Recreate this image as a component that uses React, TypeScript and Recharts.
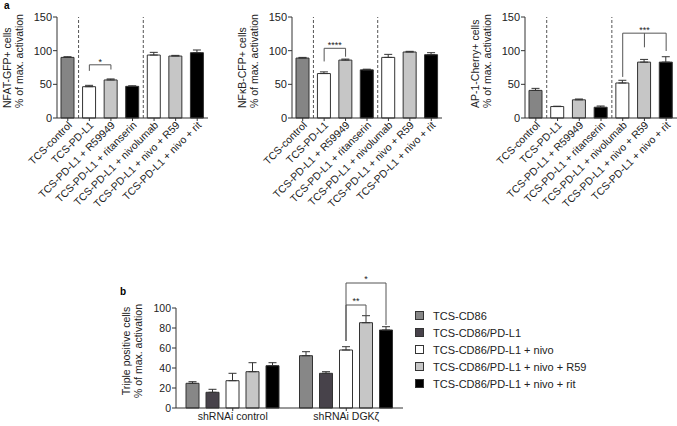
import React from 'react';
import { Bar, BarChart, Cell, ErrorBar, ReferenceLine, XAxis, YAxis } from 'recharts';

const FONT = '"Liberation Sans", Arial, Helvetica, sans-serif';
const INK = '#222';
const LINE = '#333';
const BRACKET = '#555';

// panel a: reporter activation per condition
const conditions = [
  'TCS-control',
  'TCS-PD-L1',
  'TCS-PD-L1 + R59949',
  'TCS-PD-L1 + ritanserin',
  'TCS-PD-L1 + nivolumab',
  'TCS-PD-L1 + nivo + R59',
  'TCS-PD-L1 + nivo + rit',
];
const conditionFills = ['#858585', '#ffffff', '#c6c6c6', '#000000', '#ffffff', '#c6c6c6', '#000000'];
const separators = [1, 4];

const nfatMean = [90, 46.5, 56.5, 47, 93.5, 92, 97];
const nfatSem = [1, 2, 1.5, 0.8, 4, 1, 4];
const nfkbMean = [89, 66, 86, 71.5, 90, 98, 94];
const nfkbSem = [1, 2.5, 1.5, 1, 4.5, 1, 3];
const ap1Mean = [41, 17, 27, 16, 52, 83, 83];
const ap1Sem = [3, 0.5, 1.2, 1.8, 4, 4, 8];

type Bracket = { from: number; to: number; y: number; legs: [number, number][]; label: string };

const nfatBrackets: Bracket[] = [{ from: 1, to: 2, y: 79, legs: [[1, 70], [2, 72]], label: '*' }];
const nfkbBrackets: Bracket[] = [{ from: 1, to: 2, y: 103.5, legs: [[1, 84], [2, 91]], label: '****' }];
const ap1Brackets: Bracket[] = [
  { from: 4, to: 6, y: 126, legs: [[4, 61], [5, 105], [6, 99.5]], label: '***' },
];

// panel b: triple positive cells per knockdown
const groups = ['shRNAi control', 'shRNAi DGKζ'];
const treatments = [
  'TCS-CD86',
  'TCS-CD86/PD-L1',
  'TCS-CD86/PD-L1 + nivo',
  'TCS-CD86/PD-L1 + nivo + R59',
  'TCS-CD86/PD-L1 + nivo + rit',
];
const treatmentFills = ['#878787', '#47424a', '#ffffff', '#c6c6c6', '#000000'];
const cd86Mean = [24.7, 52.3];
const cd86Sem = [1.6, 4];
const pdl1Mean = [15.7, 34.7];
const pdl1Sem = [3, 1.6];
const nivoMean = [27.3, 58];
const nivoSem = [7.4, 3.3];
const r59Mean = [36.3, 85.3];
const r59Sem = [9, 7];
const ritMean = [42.3, 78];
const ritSem = [3, 3.3];

// brackets in b, anchored on bar `from` of group `group`; legs are [treatment, lower end]
type GroupBracket = { group: number; from: number; to: number; y: number; legs: [number, number][]; label: string };
const tripleBrackets: GroupBracket[] = [
  { group: 1, from: 2, to: 4, y: 125, legs: [[2, 67], [4, 83]], label: '*' },
  { group: 1, from: 2, to: 3, y: 103, legs: [[2, 67], [3, 93]], label: '**' },
];

const A_HEIGHT = 215;
const A_BAR = 13;
const B_BAR = 13;
const B_GAP = 7;

function SlantTick(props: any) {
  const { x, y, payload } = props;
  return (
    <text
      x={x + 2}
      y={y}
      transform={`rotate(-45, ${x + 2}, ${y})`}
      textAnchor="end"
      dominantBaseline="central"
      fontSize={10.5}
      fontFamily={FONT}
      fill={INK}
    >
      {payload.value}
    </text>
  );
}

function YTitle({ viewBox, lines, anchor }: any) {
  const axisX = viewBox.x + viewBox.width;
  const x1 = axisX - 50;
  const x2 = axisX - 38;
  const yAt = anchor === 'start' ? viewBox.y + viewBox.height - 10 : viewBox.y + viewBox.height / 2 - 7;
  return (
    <g fontFamily={FONT} fontSize={10.5} fill={INK}>
      {[x1, x2].map((x, i) => (
        <text
          key={i}
          x={x}
          y={yAt}
          transform={`rotate(-90, ${x}, ${yAt})`}
          textAnchor={anchor}
          dominantBaseline="central"
        >
          {lines[i]}
        </text>
      ))}
    </g>
  );
}

const starLabel = (text: string) => ({
  value: text,
  position: 'top' as const,
  offset: 0,
  fontSize: 9,
  fill: INK,
  fontFamily: FONT,
});

function ActivationPanel({
  left,
  width,
  yAxisWidth,
  right,
  means,
  sems,
  title,
  brackets,
}: {
  left: number;
  width: number;
  yAxisWidth: number;
  right: number;
  means: number[];
  sems: number[];
  title: string[];
  brackets: Bracket[];
}) {
  const rows = conditions.map((name, i) => ({ name, mean: means[i], err: [0, sems[i]] }));
  return (
    <div style={{ position: 'absolute', left, top: 0 }}>
      <BarChart
        width={width}
        height={A_HEIGHT}
        data={rows}
        barSize={A_BAR}
        margin={{ top: 17, right, left: 0, bottom: 0 }}
      >
        <XAxis
          dataKey="name"
          interval={0}
          height={97}
          allowDuplicatedCategory={false}
          tick={<SlantTick />}
          tickSize={3}
          axisLine={{ stroke: LINE }}
          tickLine={{ stroke: LINE }}
        />
        <YAxis
          width={yAxisWidth}
          domain={[0, 150]}
          ticks={[0, 50, 100, 150]}
          tickSize={4}
          tickMargin={1}
          axisLine={{ stroke: LINE }}
          tickLine={{ stroke: LINE }}
          tick={{ fontSize: 11, fill: INK, fontFamily: FONT }}
          label={{ content: (p: any) => <YTitle viewBox={p.viewBox} lines={title} anchor="start" /> }}
        />
        {separators.map((s) => (
          <ReferenceLine key={s} x={conditions[s]} position="start" stroke="#555" strokeDasharray="3 2" />
        ))}
        <Bar dataKey="mean" stroke={LINE} strokeWidth={1} isAnimationActive={false}>
          {rows.map((r, i) => (
            <Cell key={r.name} fill={conditionFills[i]} />
          ))}
          <ErrorBar dataKey="err" width={4} stroke={LINE} strokeWidth={1} direction="y" />
        </Bar>
        {brackets.flatMap((b, k) => [
          <ReferenceLine
            key={`h${k}`}
            segment={[
              { x: conditions[b.from], y: b.y },
              { x: conditions[b.to], y: b.y },
            ]}
            stroke={BRACKET}
            label={starLabel(b.label)}
          />,
          ...b.legs.map(([c, low], j) => (
            <ReferenceLine
              key={`l${k}-${j}`}
              segment={[
                { x: conditions[c], y: b.y },
                { x: conditions[c], y: low },
              ]}
              stroke={BRACKET}
            />
          )),
        ])}
      </BarChart>
    </div>
  );
}

// bracket drawn from the label of the first bar; the bar's own height/value gives the y scale
function makeBracketLabel(series: number) {
  return function BracketLabel(props: any) {
    const { x, y, width, height, value, index } = props;
    const items = tripleBrackets.filter((b) => b.from === series && b.group === index);
    if (!items.length || !value) return null;
    const base = y + height;
    const perUnit = height / value;
    const yOf = (v: number) => base - v * perUnit;
    const xOf = (j: number) => x + width / 2 + (j - series) * (B_BAR + B_GAP);
    return (
      <g>
        {items.map((b, k) => (
          <g key={k} stroke={BRACKET} fill="none">
            <line x1={xOf(b.from)} x2={xOf(b.to)} y1={yOf(b.y)} y2={yOf(b.y)} />
            {b.legs.map(([j, low]) => (
              <line key={j} x1={xOf(j)} x2={xOf(j)} y1={yOf(b.y)} y2={yOf(low)} />
            ))}
            <text
              x={(xOf(b.from) + xOf(b.to)) / 2}
              y={yOf(b.y) - 1}
              textAnchor="middle"
              fontSize={9}
              fontFamily={FONT}
              fill={INK}
              stroke="none"
            >
              {b.label}
            </text>
          </g>
        ))}
      </g>
    );
  };
}

function TriplePanel() {
  const means = [cd86Mean, pdl1Mean, nivoMean, r59Mean, ritMean];
  const sems = [cd86Sem, pdl1Sem, nivoSem, r59Sem, ritSem];
  const rows = groups.map((name, g) => {
    const row: Record<string, any> = { name };
    treatments.forEach((_, j) => {
      row[`s${j}`] = means[j][g];
      row[`e${j}`] = [0, sems[j][g]];
    });
    return row;
  });
  const anchors = new Set(tripleBrackets.map((b) => b.from));
  return (
    <div style={{ position: 'absolute', left: 100, top: 260 }}>
      <BarChart
        width={577}
        height={166}
        data={rows}
        barSize={B_BAR}
        barGap={B_GAP}
        margin={{ top: 48, right: 274, left: 0, bottom: 0 }}
      >
        <XAxis
          dataKey="name"
          height={18}
          tickSize={3}
          axisLine={{ stroke: LINE }}
          tickLine={{ stroke: LINE }}
          tick={{ fontSize: 10.5, fill: INK, fontFamily: FONT }}
        />
        <YAxis
          width={76}
          domain={[0, 100]}
          ticks={[0, 20, 40, 60, 80, 100]}
          tickSize={4}
          tickMargin={1}
          axisLine={{ stroke: LINE }}
          tickLine={{ stroke: LINE }}
          tick={{ fontSize: 10.5, fill: INK, fontFamily: FONT }}
          label={{
            content: (p: any) => (
              <YTitle viewBox={p.viewBox} lines={['Triple positive cells', '% of max. activation']} anchor="middle" />
            ),
          }}
        />
        {treatments.map((t, j) => (
          <Bar
            key={t}
            dataKey={`s${j}`}
            name={t}
            fill={treatmentFills[j]}
            stroke={LINE}
            isAnimationActive={false}
            label={anchors.has(j) ? makeBracketLabel(j) : false}
          >
            <ErrorBar dataKey={`e${j}`} width={4} stroke={LINE} strokeWidth={1} direction="y" />
          </Bar>
        ))}
      </BarChart>
    </div>
  );
}

function TreatmentLegend() {
  return (
    <div style={{ position: 'absolute', left: 415, top: 307, fontFamily: FONT, fontSize: 11, color: INK }}>
      {treatments.map((t, j) => (
        <div key={t} style={{ display: 'flex', alignItems: 'center', height: 17 }}>
          <span
            style={{
              display: 'inline-block',
              width: 7,
              height: 7,
              background: treatmentFills[j],
              border: `1px solid ${LINE}`,
              marginRight: 9,
            }}
          />
          <span>{t}</span>
        </div>
      ))}
    </div>
  );
}

export default function App() {
  return (
    <div style={{ position: 'absolute', left: 0, top: 0, width: 677, height: 426, background: '#fff', overflow: 'hidden' }}>
      <div style={{ position: 'absolute', left: 4, top: 0, fontFamily: FONT, fontWeight: 'bold', fontSize: 10 }}>a</div>
      <div style={{ position: 'absolute', left: 120, top: 286, fontFamily: FONT, fontWeight: 'bold', fontSize: 10 }}>b</div>
      <ActivationPanel
        left={0}
        width={216}
        yAxisWidth={57}
        right={8}
        means={nfatMean}
        sems={nfatSem}
        title={['NFAT-GFP+ cells', '% of max. activation']}
        brackets={nfatBrackets}
      />
      <ActivationPanel
        left={230}
        width={220}
        yAxisWidth={62}
        right={8}
        means={nfkbMean}
        sems={nfkbSem}
        title={['NFκB-CFP+ cells', '% of max. activation']}
        brackets={nfkbBrackets}
      />
      <ActivationPanel
        left={455}
        width={222}
        yAxisWidth={70}
        right={0}
        means={ap1Mean}
        sems={ap1Sem}
        title={['AP-1-Cherry+ cells', '% of max. activation']}
        brackets={ap1Brackets}
      />
      <TriplePanel />
      <TreatmentLegend />
    </div>
  );
}
